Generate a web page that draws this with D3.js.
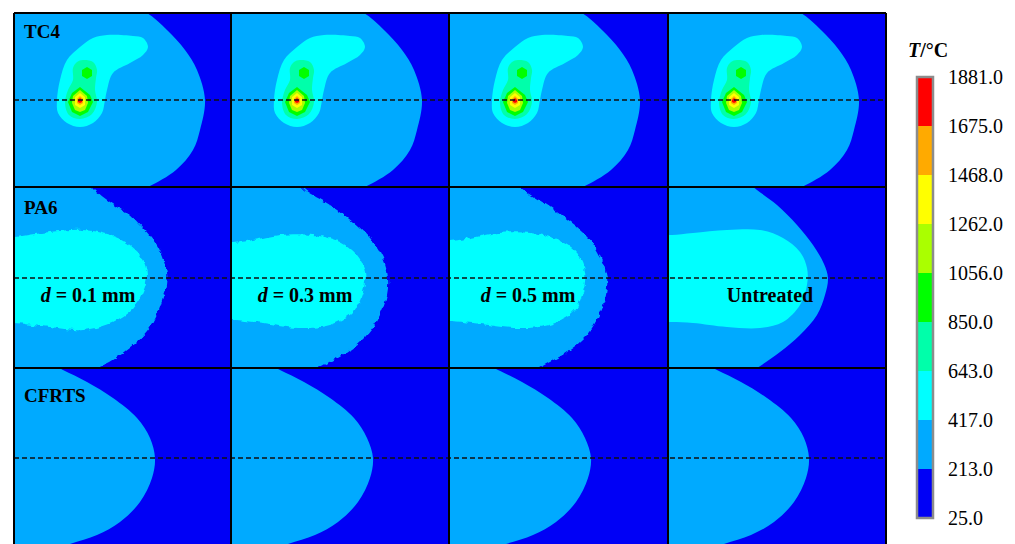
<!DOCTYPE html>
<html>
<head>
<meta charset="utf-8">
<script src="https://cdn.jsdelivr.net/npm/d3@7"></script>
<style>
  html, body { margin: 0; padding: 0; background: #ffffff; }
  svg { display: block; }
  text { font-family: "Liberation Serif", "Times New Roman", serif; }
</style>
</head>
<body>
<svg id="chart" width="1015" height="544"></svg>
<script>
// Temperature levels (°C) that bound the colour bands, low to high
const levels = [25.0, 213.0, 417.0, 643.0, 850.0, 1056.0, 1262.0, 1468.0, 1675.0, 1881.0];
// One colour per band between consecutive levels
const bandColors = ["#0000f6", "#00aaff", "#00ffff", "#00ffaa", "#00ff00", "#aaff00", "#ffff00", "#ffaa00", "#ff0000"];

const materials = ["TC4", "PA6", "CFRTS"];
const cases = ["d = 0.1 mm", "d = 0.3 mm", "d = 0.5 mm", "Untreated"];

// Isotherm outlines in panel units: x from the panel's left edge, y from the dashed centre line.
// toLeft: the hot side is bounded by the curve and the panel's left side.
const tc4Isotherms = [
  { level: 213, toLeft: true, pts: [[114,-95],[133,-87],[153,-70],[171,-50],[183,-30],[191,0],[186,30],[179,50],[162,70],[134,87],[115,95]] },
  { level: 417, pts: [[79,-62],[93,-65],[119,-64],[129,-62],[134,-53],[129,-45],[116,-37],[99,-27],[93,-10],[91,0],[88,13],[79,23],[66,27],[53,23],[44,13],[43,0],[46,-20],[53,-40],[66,-53]] },
  { level: 643, pts: [[69,-40],[79,-38],[83,-30],[82,-22],[81,-10],[83,2],[78,14],[66,19],[55,15],[51,3],[54,-10],[59,-20],[59,-32],[63,-38]] },
  { level: 850, pts: [[73,-33],[78,-30],[78,-24],[73,-21],[68,-24],[68,-30]] },
  { level: 850, pts: [[66,-13],[76,-5],[79,2],[74,12],[66,16],[58,12],[54,2],[58,-7]] },
  { level: 1056, pts: [[66,-10],[73,-4],[74,3],[71,10],[66,12],[61,10],[58,3],[59,-4]] },
  { level: 1262, pts: [[66,-7],[71,-3],[71,5],[66,8],[61,5],[61,-3]] },
  { level: 1468, pts: [[66,-4],[69,-1],[69,3],[66,5],[63,3],[63,-1]] },
  { level: 1675, pts: [[66,-2],[68,0],[68,2],[66,3],[64,2],[64,0]] }
];

const pa6Isotherms = [
  [ // d = 0.1 mm
    { level: 213, toLeft: true, pts: [[75,-95],[81,-88],[96,-76],[116,-63],[129,-50],[143,-33],[149,-20],[153,-6],[153,7],[149,20],[143,37],[133,54],[116,70],[96,84],[83,90],[78,95]] },
    { level: 417, toLeft: true, pts: [[-5,-41],[0,-41],[36,-46],[69,-48],[96,-43],[116,-33],[128,-20],[133,-3],[129,14],[119,30],[99,44],[69,52],[36,49],[0,45],[-5,45]] }
  ],
  [ // d = 0.3 mm
    { level: 213, toLeft: true, pts: [[68,-95],[74,-88],[99,-73],[122,-56],[139,-40],[152,-20],[157,0],[156,17],[149,37],[136,57],[116,74],[89,89],[80,95]] },
    { level: 417, toLeft: true, pts: [[-5,-35],[2,-35],[22,-38],[49,-43],[82,-43],[109,-36],[126,-23],[134,-6],[132,14],[122,34],[99,47],[66,50],[32,45],[2,42],[-5,42]] }
  ],
  [ // d = 0.5 mm
    { level: 213, toLeft: true, pts: [[65,-95],[71,-90],[98,-73],[122,-56],[140,-40],[152,-20],[158,0],[157,17],[150,37],[138,57],[118,74],[90,90],[82,95]] },
    { level: 417, toLeft: true, pts: [[-5,-37],[2,-37],[22,-40],[49,-45],[82,-45],[110,-38],[128,-25],[136,-6],[134,14],[124,34],[100,47],[66,50],[32,46],[2,43],[-5,43]] }
  ],
  [ // untreated
    { level: 213, toLeft: true, pts: [[80,-95],[89,-88],[109,-73],[129,-53],[145,-33],[156,-14],[160,0],[157,17],[149,37],[132,57],[112,74],[89,90],[80,95]] },
    { level: 417, toLeft: true, pts: [[-5,-43],[4,-43],[25,-45],[59,-48],[92,-48],[115,-40],[132,-26],[139,-10],[139,7],[132,27],[115,44],[92,50],[59,49],[25,45],[4,44],[-5,44]] }
  ]
];

const cfrtsIsotherms = [
  [ { level: 213, toLeft: true, pts: [[35,-95],[49,-88],[73,-76],[99,-60],[123,-40],[136,-20],[141,0],[138,20],[126,44],[106,64],[83,77],[56,86],[29,95]] } ],
  [ { level: 213, toLeft: true, pts: [[35,-95],[49,-88],[73,-76],[99,-60],[123,-40],[136,-20],[142,0],[139,20],[127,44],[107,64],[84,77],[57,86],[30,95]] } ],
  [ { level: 213, toLeft: true, pts: [[35,-95],[49,-88],[73,-76],[99,-60],[123,-40],[136,-20],[142,0],[139,20],[127,44],[107,64],[84,77],[57,86],[30,95]] } ],
  [ { level: 213, toLeft: true, pts: [[35,-95],[49,-88],[73,-76],[99,-60],[123,-40],[136,-20],[141,0],[138,20],[126,44],[106,64],[83,77],[56,86],[29,95]] } ]
];

// ---- layout ----
const colEdges = [14, 231, 449, 668, 886];
const rowEdges = [13, 187, 368, 548];
const rowCentres = [100, 278, 458];
const materialLabelDrop = [25, 27, 34];

const svg = d3.select("#chart");
const defs = svg.append("defs");

// Ragged edge for the treated PA6 fields (element-wise interpolation)
const rough = defs.append("filter").attr("id", "ragged")
  .attr("x", "-20%").attr("y", "-20%").attr("width", "140%").attr("height", "140%");
rough.append("feTurbulence").attr("type", "fractalNoise").attr("baseFrequency", 0.2)
  .attr("numOctaves", 1).attr("seed", 5).attr("result", "noise");
rough.append("feDisplacementMap").attr("in", "SourceGraphic").attr("in2", "noise")
  .attr("scale", 6).attr("xChannelSelector", "R").attr("yChannelSelector", "G");

const colorOf = lv => bandColors[levels.indexOf(lv)];

function isothermsFor(r, c) {
  if (r === 0) return tc4Isotherms;
  if (r === 1) return pa6Isotherms[c];
  return cfrtsIsotherms[c];
}

for (let r = 0; r < 3; r++) {
  for (let c = 0; c < 4; c++) {
    const x0 = colEdges[c], x1 = colEdges[c + 1];
    const y0 = rowEdges[r], y1 = rowEdges[r + 1];
    const yc = rowCentres[r];
    const x = d3.scaleLinear().domain([0, x1 - x0]).range([x0, x1]);
    const y = d3.scaleLinear().domain([y0 - yc, y1 - yc]).range([y0, y1]);

    const clipId = `clip-${r}-${c}`;
    defs.append("clipPath").attr("id", clipId)
      .append("rect").attr("x", x0).attr("y", y0).attr("width", x1 - x0).attr("height", y1 - y0);

    const g = svg.append("g").attr("clip-path", `url(#${clipId})`);
    g.append("rect").attr("x", x0).attr("y", y0).attr("width", x1 - x0).attr("height", y1 - y0)
      .attr("fill", bandColors[0]);

    const inner = g.append("g");
    if (r === 1 && cases[c] !== "Untreated") inner.attr("filter", "url(#ragged)");

    isothermsFor(r, c).forEach(iso => {
      const smooth = iso.level < 850;
      let d;
      if (iso.toLeft) {
        const line = d3.line().x(p => x(p[0])).y(p => y(p[1])).curve(d3.curveCatmullRom.alpha(0.5));
        const first = iso.pts[0], last = iso.pts[iso.pts.length - 1];
        d = line(iso.pts) + `L${x(-30)},${y(last[1])}L${x(-30)},${y(first[1])}Z`;
      } else {
        const line = d3.line().x(p => x(p[0])).y(p => y(p[1]))
          .curve(smooth ? d3.curveCatmullRomClosed.alpha(0.5) : d3.curveLinearClosed);
        d = line(iso.pts);
      }
      inner.append("path").attr("d", d).attr("fill", colorOf(iso.level));
    });
  }
  // dashed centre line through the row
  svg.append("line")
    .attr("x1", colEdges[0]).attr("x2", colEdges[4])
    .attr("y1", rowCentres[r]).attr("y2", rowCentres[r])
    .attr("stroke", "#111").attr("stroke-width", 1.5).attr("stroke-dasharray", "5,3");

  // material label
  svg.append("text")
    .attr("x", colEdges[0] + 10).attr("y", rowEdges[r] + materialLabelDrop[r])
    .attr("font-size", 19).attr("font-weight", "bold").attr("fill", "#000")
    .text(materials[r]);
}

// case labels in the PA6 row
const caseCentres = [74, 74, 79, 102];
cases.forEach((label, c) => {
  const t = svg.append("text")
    .attr("x", colEdges[c] + caseCentres[c]).attr("y", 302)
    .attr("text-anchor", "middle").attr("font-size", 20).attr("font-weight", "bold").attr("fill", "#000");
  if (label.startsWith("d ")) {
    t.append("tspan").attr("font-style", "italic").text("d");
    t.append("tspan").text(label.slice(1));
  } else {
    t.text(label);
  }
});

// grid lines
colEdges.forEach(cx => svg.append("line").attr("x1", cx).attr("x2", cx)
  .attr("y1", rowEdges[0]).attr("y2", rowEdges[3]).attr("stroke", "#000").attr("stroke-width", 2));
rowEdges.forEach(ry => svg.append("line").attr("x1", colEdges[0]).attr("x2", colEdges[4])
  .attr("y1", ry).attr("y2", ry).attr("stroke", "#000").attr("stroke-width", 2));

// ---- colour bar ----
const barX = 917, barW = 16;
const yBar = d3.scaleLinear().domain([0, levels.length - 1]).range([518, 77]);
const bar = svg.append("g");
bandColors.forEach((col, i) => {
  bar.append("rect").attr("x", barX).attr("width", barW)
    .attr("y", yBar(i + 1)).attr("height", yBar(i) - yBar(i + 1)).attr("fill", col);
});
bar.append("rect").attr("x", barX).attr("width", barW)
  .attr("y", yBar(levels.length - 1)).attr("height", yBar(0) - yBar(levels.length - 1))
  .attr("fill", "none").attr("stroke", "#8c8c8c").attr("stroke-width", 2.5);

const axis = d3.axisRight(yBar)
  .tickValues(d3.range(levels.length))
  .tickFormat(i => levels[i].toFixed(1))
  .tickSize(0).tickPadding(15);
const ax = svg.append("g").attr("transform", `translate(${barX + barW},0)`).call(axis);
ax.select(".domain").remove();
ax.selectAll("text").attr("font-size", 20).attr("fill", "#000")
  .attr("font-family", "'Liberation Serif', 'Times New Roman', serif");

const title = svg.append("text").attr("x", 908).attr("y", 57)
  .attr("font-size", 20).attr("font-weight", "bold").attr("fill", "#000");
title.append("tspan").attr("font-style", "italic").text("T");
title.append("tspan").text("/°C");
</script>
</body>
</html>
